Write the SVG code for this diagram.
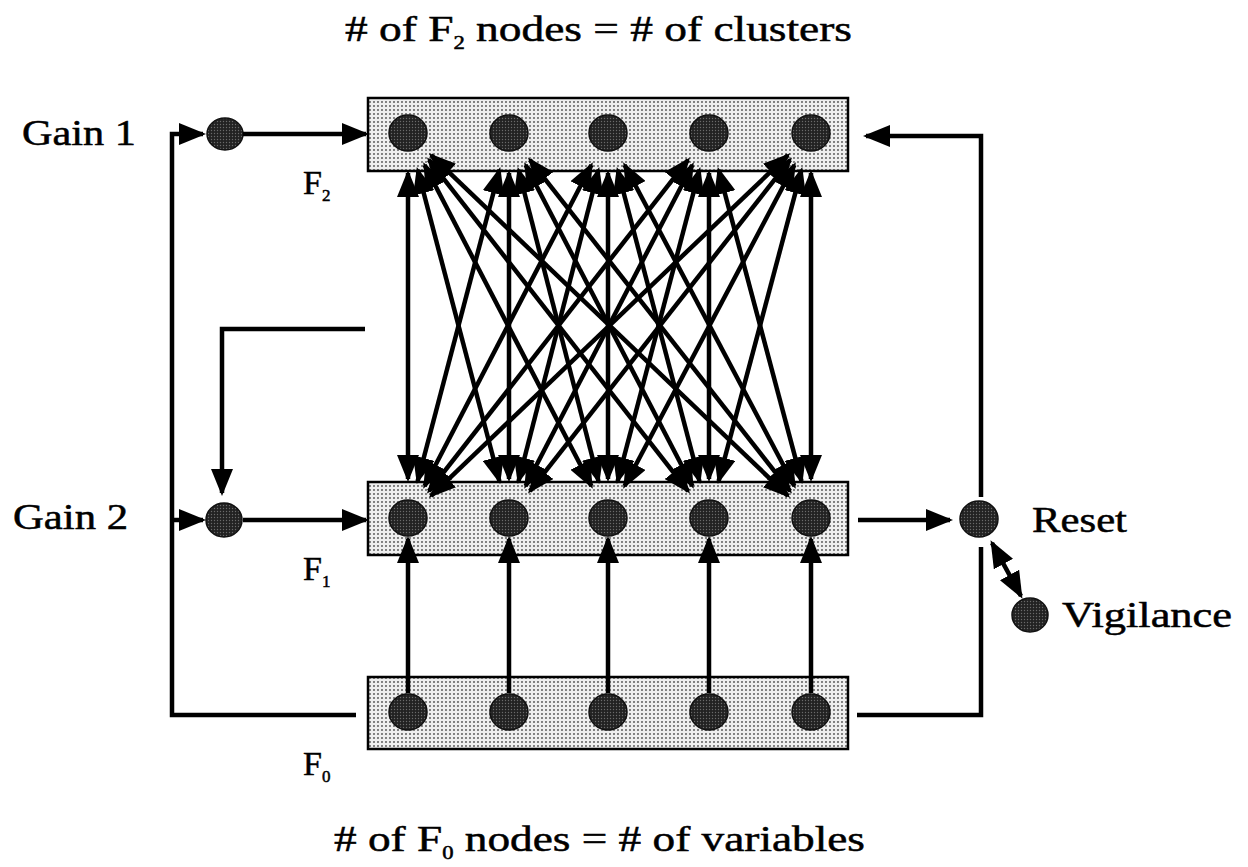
<svg xmlns="http://www.w3.org/2000/svg" width="1248" height="867" viewBox="0 0 1248 867">
<style>
.t{font-family:"Liberation Serif","Times New Roman",serif;fill:#000;stroke:#000;stroke-width:0.5}
.box{fill:url(#stip);stroke:#000;stroke-width:2.5}
.nd{fill:url(#ndots);stroke:#111;stroke-width:1.5}
.c{stroke:#000;stroke-width:4.5;fill:none}
.a{marker-end:url(#ah)}
.d{marker-start:url(#ah);marker-end:url(#ah)}
</style>
<defs>
<pattern id="stip" width="4" height="4" patternUnits="userSpaceOnUse">
<rect width="4" height="4" fill="#efefef"/>
<circle cx="2" cy="2" r="1.05" fill="#666"/>
</pattern>
<pattern id="ndots" width="3" height="3" patternUnits="userSpaceOnUse">
<rect width="3" height="3" fill="#222"/>
<circle cx="1.5" cy="1.5" r="0.7" fill="#6a6a6a"/>
</pattern>
<marker id="ah" viewBox="0 0 27 22" markerWidth="27" markerHeight="22" refX="24" refY="11" orient="auto-start-reverse" markerUnits="userSpaceOnUse">
<path d="M0,0 L27,11 L0,22 z" fill="#000"/>
</marker>
</defs>
<rect width="1248" height="867" fill="#fff"/>

<g id="labels">
<text class="t" x="345" y="41" font-size="36" textLength="507" lengthAdjust="spacingAndGlyphs"># of F<tspan font-size="18" dy="8">2</tspan><tspan dy="-8"> nodes = # of clusters</tspan></text>
<text class="t" x="334" y="851" font-size="36" textLength="531" lengthAdjust="spacingAndGlyphs"># of F<tspan font-size="18" dy="8">0</tspan><tspan dy="-8"> nodes = # of variables</tspan></text>
<text class="t" x="303" y="194" font-size="34">F<tspan font-size="17" dy="7">2</tspan></text>
<text class="t" x="303" y="580" font-size="34">F<tspan font-size="17" dy="7">1</tspan></text>
<text class="t" x="303" y="775" font-size="34">F<tspan font-size="17" dy="7">0</tspan></text>
</g>

<g id="F2">
<rect class="box" x="368" y="98" width="480" height="73"/>
<g id="F2n1"><ellipse class="nd" cx="408" cy="133" rx="19" ry="18"/></g>
<g id="F2n2"><ellipse class="nd" cx="509" cy="133" rx="19" ry="18"/></g>
<g id="F2n3"><ellipse class="nd" cx="608" cy="133" rx="19" ry="18"/></g>
<g id="F2n4"><ellipse class="nd" cx="709" cy="133" rx="19" ry="18"/></g>
<g id="F2n5"><ellipse class="nd" cx="811" cy="133" rx="19" ry="18"/></g>
</g>

<g id="F1">
<rect class="box" x="368" y="482" width="480" height="73"/>
<g id="F1n1"><ellipse class="nd" cx="408" cy="518" rx="19" ry="18"/></g>
<g id="F1n2"><ellipse class="nd" cx="509" cy="518" rx="19" ry="18"/></g>
<g id="F1n3"><ellipse class="nd" cx="608" cy="518" rx="19" ry="18"/></g>
<g id="F1n4"><ellipse class="nd" cx="709" cy="518" rx="19" ry="18"/></g>
<g id="F1n5"><ellipse class="nd" cx="811" cy="518" rx="19" ry="18"/></g>
</g>

<g id="F0">
<rect class="box" x="368" y="677" width="480" height="72"/>
<g id="F0n1"><ellipse class="nd" cx="408" cy="712" rx="19" ry="18"/></g>
<g id="F0n2"><ellipse class="nd" cx="509" cy="712" rx="19" ry="18"/></g>
<g id="F0n3"><ellipse class="nd" cx="608" cy="712" rx="19" ry="18"/></g>
<g id="F0n4"><ellipse class="nd" cx="709" cy="712" rx="19" ry="18"/></g>
<g id="F0n5"><ellipse class="nd" cx="811" cy="712" rx="19" ry="18"/></g>
</g>

<g id="gain1">
<ellipse class="nd" cx="225" cy="134" rx="18" ry="16"/>
<text class="t" x="22" y="145" font-size="35" textLength="114" lengthAdjust="spacingAndGlyphs">Gain 1</text>
</g>
<g id="gain2">
<ellipse class="nd" cx="224" cy="520" rx="18" ry="17"/>
<text class="t" x="13" y="529" font-size="35" textLength="115" lengthAdjust="spacingAndGlyphs">Gain 2</text>
</g>
<g id="reset">
<ellipse class="nd" cx="979" cy="519" rx="19" ry="18"/>
<text class="t" x="1032" y="532" font-size="35" textLength="95" lengthAdjust="spacingAndGlyphs">Reset</text>
</g>
<g id="vigilance">
<ellipse class="nd" cx="1030" cy="615" rx="18" ry="17"/>
<text class="t" x="1062" y="627" font-size="35" textLength="170" lengthAdjust="spacingAndGlyphs">Vigilance</text>
</g>

<g id="connectors">
<line class="c d" x1="408" y1="173" x2="408" y2="479"/>
<line class="c d" x1="417.6" y1="169.8" x2="499.4" y2="481.2"/>
<line class="c d" x1="424.6" y1="165" x2="591.4" y2="486"/>
<line class="c d" x1="428.9" y1="159.8" x2="688.1" y2="491.2"/>
<line class="c d" x1="431.1" y1="155.2" x2="787.9" y2="495.8"/>

<line class="c d" x1="499.5" y1="169.8" x2="417.6" y2="481.2"/>
<line class="c d" x1="509" y1="173" x2="509" y2="479"/>
<line class="c d" x1="518.5" y1="169.8" x2="598.5" y2="481.2"/>
<line class="c d" x1="525.6" y1="165" x2="692.4" y2="486"/>
<line class="c d" x1="529.9" y1="159.8" x2="790.1" y2="491.2"/>

<line class="c d" x1="591.4" y1="165" x2="424.6" y2="486"/>
<line class="c d" x1="598.5" y1="169.8" x2="518.5" y2="481.2"/>
<line class="c d" x1="608" y1="173" x2="608" y2="479"/>
<line class="c d" x1="617.6" y1="169.8" x2="699.5" y2="481.2"/>
<line class="c d" x1="624.6" y1="165" x2="794.4" y2="486"/>

<line class="c d" x1="688.1" y1="159.8" x2="428.9" y2="491.2"/>
<line class="c d" x1="692.4" y1="165" x2="525.6" y2="486"/>
<line class="c d" x1="699.5" y1="169.8" x2="617.6" y2="481.2"/>
<line class="c d" x1="709" y1="173" x2="709" y2="479"/>
<line class="c d" x1="718.6" y1="169.8" x2="801.5" y2="481.2"/>

<line class="c d" x1="787.9" y1="155.2" x2="431.1" y2="495.8"/>
<line class="c d" x1="790.1" y1="159.8" x2="529.9" y2="491.2"/>
<line class="c d" x1="794.4" y1="165" x2="624.6" y2="486"/>
<line class="c d" x1="801.5" y1="169.8" x2="718.6" y2="481.2"/>
<line class="c d" x1="811" y1="173" x2="811" y2="479"/>

<line class="c a" x1="408" y1="693" x2="408" y2="539"/>
<line class="c a" x1="509" y1="693" x2="509" y2="539"/>
<line class="c a" x1="608" y1="693" x2="608" y2="539"/>
<line class="c a" x1="709" y1="693" x2="709" y2="539"/>
<line class="c a" x1="811" y1="693" x2="811" y2="539"/>

<line class="c a" x1="243" y1="134" x2="366" y2="134"/>
<line class="c a" x1="243" y1="520" x2="366" y2="520"/>
<path class="c a" d="M356,715 H172 V134 H203"/>
<path class="c a" d="M172,520 H203"/>
<path class="c a" d="M365,329 H222 V493"/>

<line class="c a" x1="858" y1="520" x2="950" y2="520"/>
<path class="c a" d="M981,497 V136 H866"/>
<path class="c" d="M857,715 H981 V547"/>
<line class="c d" x1="992" y1="543" x2="1021" y2="596"/>
</g>
</svg>
